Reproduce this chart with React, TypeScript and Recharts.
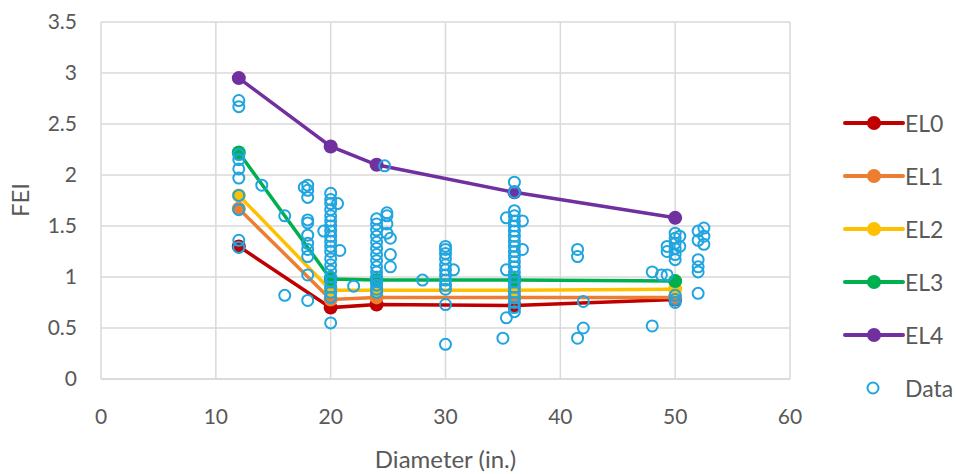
import React from 'react';
import { ScatterChart, Scatter, XAxis, YAxis, CartesianGrid } from 'recharts';

// fitted curves, one value per diameter
const diameters = [12, 20, 24, 36, 50];
const el0 = [1.3, 0.7, 0.73, 0.72, 0.78];
const el1 = [1.67, 0.78, 0.8, 0.8, 0.8];
const el2 = [1.8, 0.87, 0.87, 0.87, 0.88];
const el3 = [2.22, 0.98, 0.97, 0.97, 0.96];
const el4 = [2.95, 2.28, 2.1, 1.83, 1.58];

// measured points [diameter, FEI]
const observed: [number, number][] = [
    [12, 2.73], [12, 2.67], [12, 2.2], [12, 2.15], [12, 2.06], [12, 1.97], [12, 1.8], [12, 1.66], [12, 1.36], [12, 1.29],
    [14, 1.9], [16, 1.6], [16, 0.82],
    [17.7, 1.88], [18, 1.9], [18, 1.85], [18, 1.78], [18, 1.56], [18, 1.53], [18, 1.41], [18, 1.33], [18, 1.27], [18, 1.2], [18, 1.02], [18, 0.77],
    [20, 1.82], [20, 1.76], [20, 1.72], [20, 1.66], [20, 1.6], [20, 1.55], [20, 1.5], [20, 1.45], [20, 1.4], [20, 1.35], [20, 1.3],
    [20, 1.25], [20, 1.18], [20, 1.12], [20, 1.06], [20, 1.0], [20, 0.95], [20, 0.9], [20, 0.85], [20, 0.8], [20, 0.55],
    [19.4, 1.45], [20.6, 1.72], [20.8, 1.26], [22, 0.91],
    [24, 1.57], [24, 1.52], [24, 1.46], [24, 1.4], [24, 1.34], [24, 1.28], [24, 1.22], [24, 1.16], [24, 1.1], [24, 1.05],
    [24, 1.0], [24, 0.96], [24, 0.92], [24, 0.88], [24, 0.85],
    [24.9, 1.63], [24.9, 1.6], [24.9, 1.52], [24.9, 1.43], [25.2, 1.38], [25.2, 1.22], [25.2, 1.1], [24.7, 2.09],
    [28, 0.97],
    [30, 1.3], [30, 1.27], [30, 1.23], [30, 1.18], [30, 1.12], [30, 1.07], [30, 1.02], [30, 0.97], [30, 0.92], [30, 0.88],
    [30, 0.73], [30, 0.34], [30.7, 1.07],
    [36, 1.93], [36, 1.83], [36, 1.65], [36, 1.6], [36, 1.55], [36, 1.5], [36, 1.45], [36, 1.4], [36, 1.35], [36, 1.3],
    [36, 1.25], [36, 1.2], [36, 1.15], [36, 1.1], [36, 1.05], [36, 1.0], [36, 0.95], [36, 0.9], [36, 0.85], [36, 0.8],
    [36, 0.75], [36, 0.7], [36, 0.66],
    [35.3, 1.58], [35.3, 1.07], [35.3, 0.6], [35, 0.4], [36.7, 1.27], [36.7, 1.55],
    [41.5, 1.27], [41.5, 1.2], [41.5, 0.4], [42, 0.76], [42, 0.5],
    [48, 0.52], [48, 1.05], [48.8, 1.02], [49.3, 1.3], [49.3, 1.25], [49.3, 1.02],
    [50, 1.43], [50, 1.38], [50, 1.33], [50, 1.28], [50, 1.22], [50, 1.17], [50, 0.82], [50, 0.78], [50, 0.75],
    [50.4, 1.4], [50.4, 1.3],
    [52, 1.45], [52, 1.36], [52, 1.17], [52, 1.1], [52, 1.05], [52, 0.84], [52.5, 1.48], [52.5, 1.4], [52.5, 1.32],
];

const xTicks = [0, 10, 20, 30, 40, 50, 60];
const yTicks = [0, 0.5, 1, 1.5, 2, 2.5, 3, 3.5];

const curves = [
    { name: 'EL0', color: '#C00000', values: el0 },
    { name: 'EL1', color: '#ED7D31', values: el1 },
    { name: 'EL2', color: '#FFC000', values: el2 },
    { name: 'EL3', color: '#00B050', values: el3 },
    { name: 'EL4', color: '#7030A0', values: el4 },
];
const dataColor = '#1FA5E0';
const textColor = '#595959';
const gridColor = '#D9D9D9';

const observedData = observed.map(([x, y]) => ({ x, y }));

const LegendBox = () => (
    <div style={{ position: 'absolute', left: 835, top: 96 }}>
        {curves.map((c) => (
            <div key={c.name} style={{ display: 'flex', alignItems: 'center', height: 53 }}>
                <svg width={70} height={20}>
                    <line x1={10} y1={10} x2={68} y2={10} stroke={c.color} strokeWidth={4} strokeLinecap="round" />
                    <circle cx={39} cy={10} r={7} fill={c.color} />
                </svg>
                <span style={{ fontSize: 23, color: textColor }}>{c.name}</span>
            </div>
        ))}
        <div style={{ display: 'flex', alignItems: 'center', height: 53 }}>
            <svg width={70} height={20}>
                <circle cx={38} cy={10} r={5.5} fill="none" stroke={dataColor} strokeWidth={2} />
            </svg>
            <span style={{ fontSize: 23, color: textColor }}>Data</span>
        </div>
    </div>
);

const App: React.FC = () => {
    return (
        <div style={{ position: 'absolute', left: 0, top: 0, width: 956, height: 474, background: '#fff', fontFamily: 'Lato, sans-serif' }}>
            <ScatterChart width={956} height={474} margin={{ top: 22, right: 166, left: 0, bottom: 0 }}>
                <CartesianGrid stroke={gridColor} strokeWidth={1.5} />
                <XAxis
                    type="number"
                    dataKey="x"
                    domain={[0, 60]}
                    ticks={xTicks}
                    axisLine={{ stroke: gridColor, strokeWidth: 1.5 }}
                    tickLine={false}
                    tickMargin={24}
                    tick={{ fontSize: 21, fill: textColor }}
                    height={95}
                />
                <YAxis
                    type="number"
                    dataKey="y"
                    domain={[0, 3.5]}
                    ticks={yTicks}
                    axisLine={false}
                    tickLine={false}
                    tickMargin={18}
                    tick={{ fontSize: 21, fill: textColor }}
                    width={101}
                />
                {curves.map((c) => (
                    <Scatter
                        key={c.name}
                        name={c.name}
                        data={diameters.map((d, i) => ({ x: d, y: c.values[i] }))}
                        fill={c.color}
                        line={{ stroke: c.color, strokeWidth: 3.5 }}
                        shape={(p: any) => <circle cx={p.cx} cy={p.cy} r={7} fill={c.color} />}
                        isAnimationActive={false}
                    />
                ))}
                <Scatter
                    name="Data"
                    data={observedData}
                    shape={(p: any) => <circle cx={p.cx} cy={p.cy} r={5.5} fill="none" stroke={dataColor} strokeWidth={2} />}
                    isAnimationActive={false}
                />
            </ScatterChart>
            <div style={{ position: 'absolute', left: 101, width: 689, top: 446, textAlign: 'center', fontSize: 24, lineHeight: '26px', color: textColor }}>
                Diameter (in.)
            </div>
            <div style={{ position: 'absolute', left: 20, top: 200, transform: 'translate(-50%, -50%) rotate(-90deg)', fontSize: 24, lineHeight: '26px', color: textColor }}>
                FEI
            </div>
            <LegendBox />
        </div>
    );
};

export default App;
